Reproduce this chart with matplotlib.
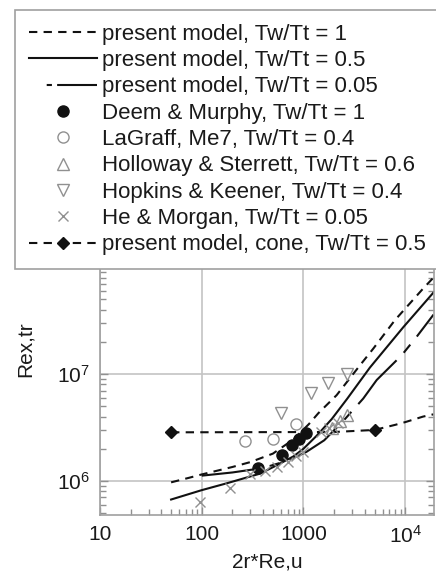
import matplotlib
matplotlib.use('Agg')
import matplotlib.pyplot as plt
from matplotlib.lines import Line2D
from matplotlib.ticker import FixedLocator, FixedFormatter, LogLocator, NullFormatter

plt.rcParams['font.family'] = ['Liberation Sans', 'DejaVu Sans']
plt.rcParams['mathtext.fontset'] = 'custom'
plt.rcParams['mathtext.rm'] = 'Liberation Sans'
plt.rcParams['mathtext.it'] = 'Liberation Sans:italic'
plt.rcParams['mathtext.default'] = 'regular'

# ---------------- data ----------------
tw1_x = [50, 75, 100, 200, 300, 500, 800, 1130, 1400, 2120, 3600, 4880, 7940, 15100, 19000]
tw1_y = [9.7e5, 1.07e6, 1.15e6, 1.35e6, 1.5e6, 1.8e6, 2.45e6, 3.4e6, 4.3e6, 6.35e6,
         1.21e7, 1.74e7, 3.2e7, 6.35e7, 8.0e7]

tw05_x = [50, 100, 176, 374, 546, 800, 1000, 1350, 1900, 2700, 4500, 9600, 19000]
tw05_y = [6.7e5, 8.2e5, 9.5e5, 1.17e6, 1.4e6, 1.7e6, 2.0e6, 2.65e6, 3.8e6, 5.9e6, 1.15e7, 2.75e7, 5.8e7]

tw005_x = [100, 200, 400, 700, 1070, 1600, 2500, 3870, 5250, 9240, 13000, 19000]
tw005_y = [1.12e6, 1.2e6, 1.32e6, 1.55e6, 1.87e6, 2.4e6, 3.7e6, 5.9e6, 8.8e6, 1.5e7, 2.24e7, 3.6e7]

cone_x = [50, 2000, 5000, 8000, 10000, 15000, 19000]
cone_y = [2.85e6, 2.87e6, 3.0e6, 3.35e6, 3.55e6, 4.0e6, 4.2e6]
cone_marker_idx = [0, 2]

deem_x = [360, 610, 780, 900, 1050]
deem_y = [1.32e6, 1.75e6, 2.15e6, 2.45e6, 2.8e6]

lagraff_x = [267, 506, 840]
lagraff_y = [2.35e6, 2.45e6, 3.4e6]

holloway_x = [1900, 2300, 2700]
holloway_y = [3.1e6, 3.6e6, 4.1e6]

hopkins_x = [600, 1180, 1760, 2670]
hopkins_y = [4.3e6, 6.7e6, 8.2e6, 1.0e7]

hemorgan_x = [96, 190, 300, 420, 550, 700, 850, 1000, 1500, 1800, 2200]
hemorgan_y = [6.4e5, 8.5e5, 1.15e6, 1.25e6, 1.35e6, 1.5e6, 1.7e6, 1.85e6, 2.9e6, 3.1e6, 3.5e6]

labels = ['present model, Tw/Tt = 1',
          'present model, Tw/Tt = 0.5',
          'present model, Tw/Tt = 0.05',
          'Deem & Murphy, Tw/Tt = 1',
          'LaGraff, Me7, Tw/Tt = 0.4',
          'Holloway & Sterrett, Tw/Tt = 0.6',
          'Hopkins & Keener, Tw/Tt = 0.4',
          'He & Morgan, Tw/Tt = 0.05',
          'present model, cone, Tw/Tt = 0.5']

x_ticks = [10, 100, 1000, 10000]
x_ticklabels = ['10', '100', '1000', r'$10^4$']
y_ticks = [1e6, 1e7]
y_ticklabels = [r'$10^6$', r'$10^7$']

# ---------------- figure ----------------
W, H = 436, 574
fig = plt.figure(figsize=(W / 100, H / 100), dpi=100)
ax_l, ax_r, ax_b, ax_t = 100, 434, 515, 255
ax = fig.add_axes([ax_l / W, (H - ax_b) / H, (ax_r - ax_l) / W, (ax_b - ax_t) / H])
ax.set_xscale('log')
ax.set_yscale('log')
ax.set_xlim(10, 1.92e4)
ax.set_ylim(4.8e5, 1.3e8)

grey = '#909090'
ink = '#111111'
lw = 1.5

l1, = ax.plot(tw1_x, tw1_y, color=ink, lw=lw, linestyle=(0, (4, 3)))
l2, = ax.plot(tw05_x, tw05_y, color=ink, lw=lw, linestyle='-')
l3, = ax.plot(tw005_x, tw005_y, color=ink, lw=lw, linestyle=(0, (28, 5, 5, 5)))
l9, = ax.plot(cone_x, cone_y, color=ink, lw=lw, linestyle=(0, (4, 3)),
              marker='D', markersize=6, markevery=cone_marker_idx,
              markerfacecolor=ink, markeredgecolor=ink)

m4, = ax.plot(deem_x, deem_y, linestyle='none', marker='o', markersize=8,
              markerfacecolor=ink, markeredgecolor=ink)
m5, = ax.plot(lagraff_x, lagraff_y, linestyle='none', marker='o', markersize=8,
              markerfacecolor='none', markeredgecolor=grey, markeredgewidth=1)
m6, = ax.plot(holloway_x, holloway_y, linestyle='none', marker='^', markersize=8,
              markerfacecolor='none', markeredgecolor=grey, markeredgewidth=1)
m7, = ax.plot(hopkins_x, hopkins_y, linestyle='none', marker='v', markersize=8,
              markerfacecolor='none', markeredgecolor=grey, markeredgewidth=1)
m8, = ax.plot(hemorgan_x, hemorgan_y, linestyle='none', marker='x', markersize=7,
              markeredgecolor=grey, markeredgewidth=1)

# axes styling
ax.xaxis.set_major_locator(FixedLocator(x_ticks))
ax.xaxis.set_major_formatter(FixedFormatter(x_ticklabels))
ax.xaxis.set_minor_locator(LogLocator(base=10, subs=range(2, 10)))
ax.xaxis.set_minor_formatter(NullFormatter())
ax.yaxis.set_major_locator(FixedLocator(y_ticks))
ax.yaxis.set_major_formatter(FixedFormatter(y_ticklabels))
ax.yaxis.set_minor_locator(LogLocator(base=10, subs=range(2, 10)))
ax.yaxis.set_minor_formatter(NullFormatter())

ax.tick_params(which='both', direction='in', top=True, right=True, color=grey, width=1)
ax.tick_params(which='major', length=6, labelsize=15, labelcolor='#1a1a1a', pad=7)
ax.tick_params(which='minor', length=4)
for s in ax.spines.values():
    s.set_color('#a0a0a0')
    s.set_linewidth(1.2)
ax.grid(True, which='major', color='#c4c4c4', lw=1.2)
ax.set_axisbelow(True)

ax.set_xlabel('2r*Re,u', fontsize=15, color='#1a1a1a', labelpad=4)
ax.set_ylabel('Rex,tr', fontsize=15, color='#1a1a1a')
ax.yaxis.set_label_coords((35 - ax_l) / (ax_r - ax_l), (ax_b - 349) / (ax_b - ax_t))

# legend (frame runs past the right edge of the picture, as in the reference)
fs = 16
fpx = fs * 100 / 72
l3_proxy = Line2D([], [], color=ink, lw=lw, linestyle=(25.5, (2.5, 2.5, 20.5, 8.5)))
handles = [l1, l2, l3_proxy, m4, m5, m6, m7, m8, l9]
leg = fig.legend(handles, labels, loc='upper left', mode='expand',
                 bbox_to_anchor=(15 / W, 1 - 10 / H, 440 / W, 0),
                 bbox_transform=fig.transFigure,
                 fontsize=fs, frameon=True, fancybox=False, framealpha=1,
                 edgecolor='#a0a0a0', borderaxespad=0,
                 handlelength=68 / fpx, handletextpad=5 / fpx, borderpad=0.62,
                 labelspacing=0.24, numpoints=1)
leg.get_frame().set_linewidth(1.2)
for t in leg.get_texts():
    t.set_color('#1a1a1a')

fig.savefig('out.png', dpi=100)
